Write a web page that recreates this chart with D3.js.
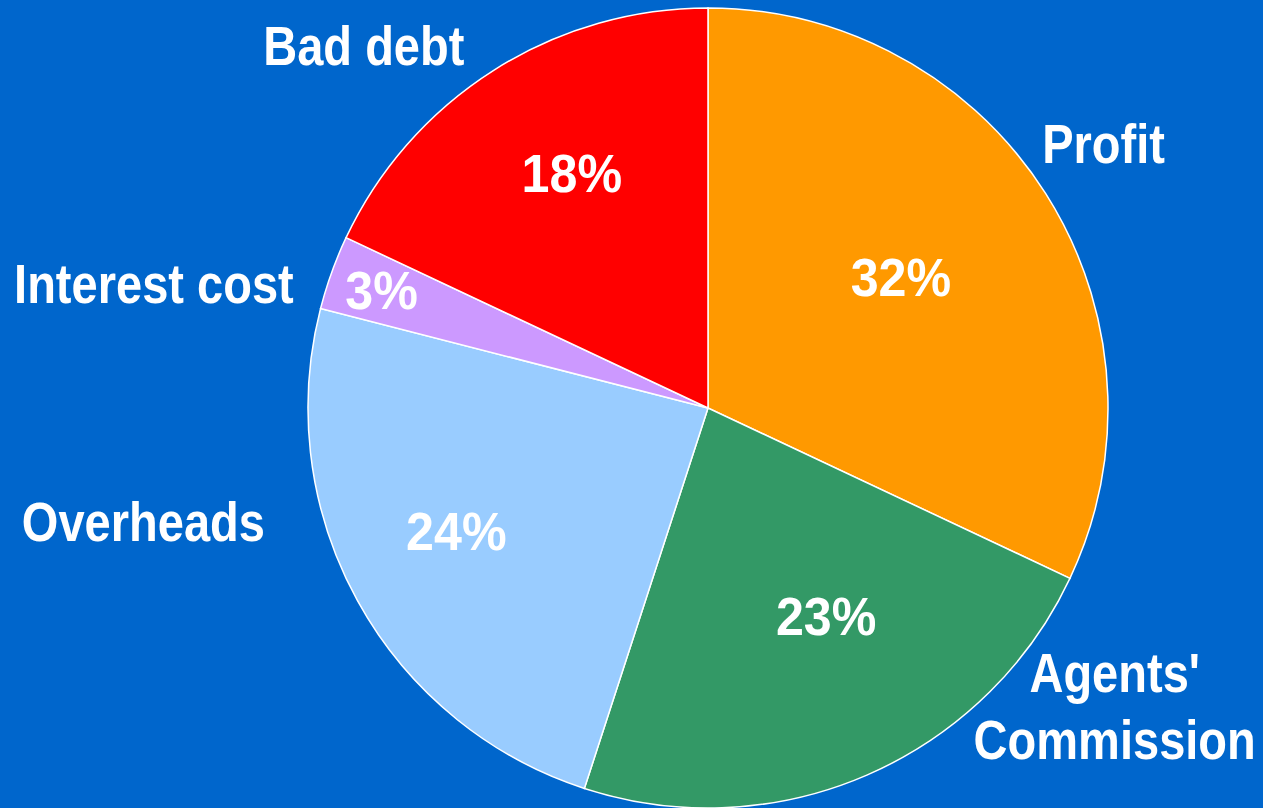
<!DOCTYPE html>
<html>
<head>
<meta charset="utf-8">
<script src="https://cdn.jsdelivr.net/npm/d3@7"></script>
<style>
  html, body { margin: 0; padding: 0; background: #0066CC; }
  text { font-family: "Liberation Sans", Arial, sans-serif; font-weight: bold; fill: #fff; }
</style>
</head>
<body>
<div id="chart"></div>
<script>
// Data
const categories = ["Profit", "Agents' Commission", "Overheads", "Interest cost", "Bad debt"];
const values = [32, 23, 24, 3, 18];
const colors = ["#FF9900", "#339966", "#99CCFF", "#CC99FF", "#FF0000"];

// label layout: polar spots (degrees clockwise from 12 o'clock, fraction of radius)
const pctAngle = [55.8, 150.4, 244.0, 289.9, 329.9];
const pctRadius = [0.583, 0.598, 0.70, 0.868, 0.679];
const nameAngle = [56.2, 126.2, 258.6, 282.7, 316.5];
const nameRadius = [1.19, 1.26, 1.44, 1.42, 1.25];

const width = 1263;
const height = 808;
const cx = 708, cy = 408, R = 400;

const svg = d3.select("#chart")
    .append("svg")
    .attr("width", width)
    .attr("height", height);

svg.append("rect")
    .attr("width", width)
    .attr("height", height)
    .attr("fill", "#0066CC");

const g = svg.append("g")
    .attr("transform", `translate(${cx},${cy})`);

// pie starts at 12 o'clock and runs clockwise, in data order
const pie = d3.pie().sort(null).value(d => d);
const arcs = pie(values);

const arc = d3.arc().innerRadius(0).outerRadius(R);

g.selectAll("path")
    .data(arcs)
    .enter()
    .append("path")
    .attr("d", arc)
    .attr("fill", (d, i) => colors[i])
    .attr("stroke", "#fff")
    .attr("stroke-width", 1.5);

// polar -> x,y relative to pie centre
function polar(deg, frac) {
    const a = deg * Math.PI / 180;
    return [R * frac * Math.sin(a), -R * frac * Math.cos(a)];
}

// percent labels inside the slices
g.selectAll("text.pct")
    .data(arcs)
    .enter()
    .append("text")
    .attr("class", "pct")
    .attr("transform", (d, i) => {
        const p = polar(pctAngle[i], pctRadius[i]);
        return `translate(${p[0]},${p[1]}) scale(0.93,1)`;
    })
    .attr("text-anchor", "middle")
    .attr("dy", "0.36em")
    .attr("font-size", 54)
    .text(d => d.data + "%");

// category names outside the pie
const names = g.selectAll("text.name")
    .data(categories)
    .enter()
    .append("text")
    .attr("class", "name")
    .attr("transform", (d, i) => {
        const p = polar(nameAngle[i], nameRadius[i]);
        return `translate(${p[0]},${p[1]}) scale(0.84,1)`;
    })
    .attr("text-anchor", "middle")
    .attr("font-size", 56);

names.each(function (d) {
    const lines = d === "Agents' Commission" ? ["Agents'", "Commission"] : [d];
    const t = d3.select(this);
    lines.forEach((line, j) => {
        t.append("tspan")
            .attr("x", 0)
            .attr("dy", j === 0 ? (0.35 - (lines.length - 1) * 0.6) + "em" : "1.2em")
            .text(line);
    });
});
</script>
</body>
</html>
